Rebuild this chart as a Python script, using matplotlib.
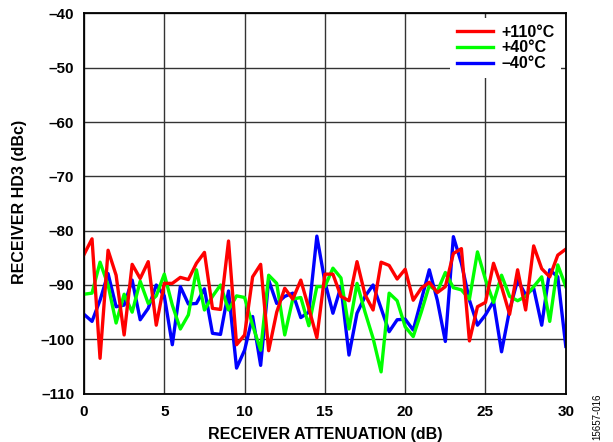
import numpy as np
import matplotlib.pyplot as plt

# receiver attenuation steps (dB), 0.5 dB apart
atten = np.arange(0, 30.5, 0.5)

# HD3 readings (dBc) per temperature
hd3_110c = [-84.4, -81.5, -103.5, -83.6, -88.2, -99.2, -86.2, -88.8, -85.7, -97.4,
            -89.7, -89.7, -88.6, -89.0, -86.0, -84.0, -94.3, -94.5, -81.9, -101.0,
            -99.2, -88.5, -86.2, -102.1, -95.0, -90.6, -92.6, -89.1, -94.3, -99.7,
            -88.0, -88.0, -92.1, -92.9, -85.7, -91.8, -94.6, -85.8, -86.4, -88.9,
            -87.1, -92.8, -90.6, -89.5, -91.4, -90.3, -84.2, -83.3, -100.3, -94.0,
            -93.2, -86.0, -90.3, -95.4, -87.2, -94.6, -82.8, -87.0, -88.5, -84.5,
            -83.4]
hd3_40c = [-91.7, -91.5, -85.8, -90.0, -97.0, -91.7, -95.0, -89.3, -93.4, -92.0,
           -88.0, -93.7, -98.1, -95.5, -87.2, -94.6, -92.1, -90.0, -94.6, -92.0,
           -92.3, -97.4, -102.0, -88.2, -89.7, -99.2, -92.6, -92.3, -97.5, -90.3,
           -90.3, -86.9, -88.7, -98.1, -89.7, -95.0, -99.8, -106.0, -91.5, -92.9,
           -97.7, -99.5, -95.0, -90.1, -91.2, -87.7, -90.5, -90.9, -92.6, -83.9,
           -89.0, -93.2, -88.2, -92.1, -92.9, -92.1, -90.3, -88.5, -96.7, -86.3,
           -90.3]
hd3_m40c = [-95.4, -96.7, -92.8, -87.9, -94.0, -93.7, -89.1, -96.4, -94.3, -90.0,
            -92.0, -101.0, -90.3, -93.5, -93.4, -90.7, -98.9, -99.1, -91.1, -105.3,
            -102.0, -95.8, -104.8, -89.1, -93.4, -92.1, -91.5, -96.0, -95.0, -81.0,
            -89.4, -95.2, -90.3, -102.9, -95.2, -92.1, -90.0, -94.3, -98.6, -96.4,
            -96.3, -98.3, -92.8, -87.2, -92.8, -100.4, -81.1, -86.0, -92.8, -97.4,
            -95.5, -93.0, -102.3, -94.6, -89.1, -91.8, -90.6, -97.4, -87.2, -88.5,
            -101.3]

xticks = [0, 5, 10, 15, 20, 25, 30]
yticks = [-110, -100, -90, -80, -70, -60, -50, -40]

plt.rcParams['font.family'] = ['Liberation Sans', 'DejaVu Sans']
plt.rcParams['font.weight'] = 'bold'

fig = plt.figure(figsize=(6.13, 4.42), dpi=100)
ax = fig.add_axes([0.137, 0.1095, 0.786, 0.86])

ln_b, = ax.plot(atten, hd3_m40c, color='#0000ff', lw=2.4, label='\u201340\u00b0C')
ln_g, = ax.plot(atten, hd3_40c, color='#00ff00', lw=2.4, label='+40\u00b0C')
ln_r, = ax.plot(atten, hd3_110c, color='#ff0000', lw=2.4, label='+110\u00b0C')

ax.set_xlim(0, 30)
ax.set_ylim(-110, -40)
ax.set_xticks(xticks)
ax.set_yticks(yticks)
ax.set_yticklabels([str(v).replace('-', '\u2013') for v in yticks])
ax.tick_params(length=0, labelsize=11)
ax.tick_params(axis='x', pad=8)
ax.tick_params(axis='y', pad=7)
for lbl in ax.get_xticklabels() + ax.get_yticklabels():
    lbl.set_fontweight('bold')
ax.grid(True, color='#333333', lw=1.0)
ax.set_axisbelow(True)
for sp in ax.spines.values():
    sp.set_linewidth(1.3)

ax.set_xlabel('RECEIVER ATTENUATION (dB)', fontsize=11.5, fontweight='bold')
ax.set_ylabel('RECEIVER HD3 (dBc)', fontsize=11.5, fontweight='bold')
ax.xaxis.set_label_coords(0.5, -0.088)
ax.yaxis.set_label_coords(-0.118, 0.505)

leg = ax.legend(handles=[ln_r, ln_g, ln_b], loc='upper right', frameon=True,
                fontsize=11.5, handlelength=2.3, handletextpad=0.5,
                labelspacing=0.05, borderaxespad=0.3, borderpad=0.4,
                fancybox=False)
leg.get_frame().set_edgecolor('none')
leg.get_frame().set_facecolor('white')
leg.get_frame().set_alpha(1.0)

fig.text(0.975, 0.005, '15657-016', rotation=90, fontsize=7,
         fontweight='normal', ha='center', va='bottom')

fig.savefig('out.png', dpi=100)
